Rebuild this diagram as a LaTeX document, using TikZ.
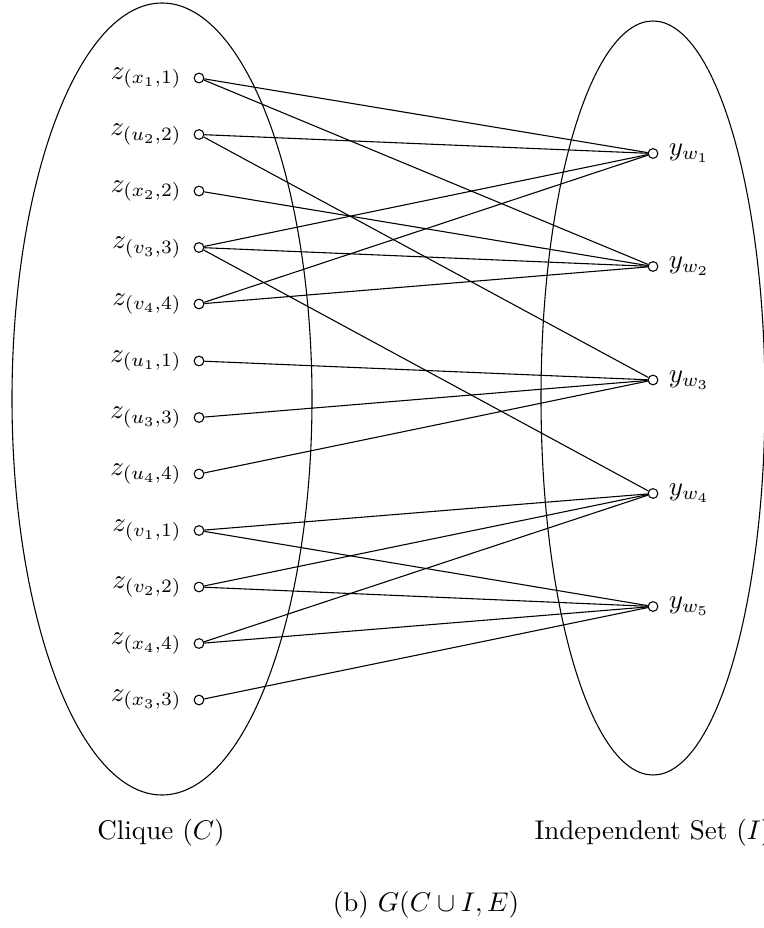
\documentclass[tikz,border=0pt]{standalone}
\usetikzlibrary{shapes.geometric}
\begin{document}
\begin{tikzpicture}[x=0.37pt,y=-0.37pt,
  vtx/.style={circle,draw,fill=white,inner sep=0pt,minimum size=3.6pt},
  lv/.style={vtx,label={[label distance=0.9pt]left:#1}},
  rv/.style={vtx,label={[label distance=0.3pt]right:#1}},
  edge/.style={line width=0.4pt},
  grp/.style={line width=0.4pt}]
\useasboundingbox (0,0) rectangle (763,928);
\draw[grp] (162,399) ellipse [x radius=150, y radius=396];
\draw[grp] (653,398) ellipse [x radius=112, y radius=377];
% left vertices
\node[lv={$z_{(x_1,1)}$}] (zx1) at (199,78) {};
\node[lv={$z_{(u_2,2)}$}] (zu2) at (199,134.5) {};
\node[lv={$z_{(x_2,2)}$}] (zx2) at (199,191) {};
\node[lv={$z_{(v_3,3)}$}] (zv3) at (199,247.5) {};
\node[lv={$z_{(v_4,4)}$}] (zv4) at (199,304) {};
\node[lv={$z_{(u_1,1)}$}] (zu1) at (199,361) {};
\node[lv={$z_{(u_3,3)}$}] (zu3) at (199,417.5) {};
\node[lv={$z_{(u_4,4)}$}] (zu4) at (199,474) {};
\node[lv={$z_{(v_1,1)}$}] (zv1) at (199,530.5) {};
\node[lv={$z_{(v_2,2)}$}] (zv2) at (199,587) {};
\node[lv={$z_{(x_4,4)}$}] (zx4) at (199,643.5) {};
\node[lv={$z_{(x_3,3)}$}] (zx3) at (199,700) {};
% right vertices
\node[rv={$y_{w_1}$}] (yw1) at (653,153.5) {};
\node[rv={$y_{w_2}$}] (yw2) at (653,266.5) {};
\node[rv={$y_{w_3}$}] (yw3) at (653,380) {};
\node[rv={$y_{w_4}$}] (yw4) at (653,493.5) {};
\node[rv={$y_{w_5}$}] (yw5) at (653,606.5) {};
% edges
\draw[edge] (zx1) -- (yw1);
\draw[edge] (zx1) -- (yw2);
\draw[edge] (zu2) -- (yw1);
\draw[edge] (zu2) -- (yw3);
\draw[edge] (zx2) -- (yw2);
\draw[edge] (zv3) -- (yw1);
\draw[edge] (zv3) -- (yw2);
\draw[edge] (zv3) -- (yw4);
\draw[edge] (zv4) -- (yw1);
\draw[edge] (zv4) -- (yw2);
\draw[edge] (zu1) -- (yw3);
\draw[edge] (zu3) -- (yw3);
\draw[edge] (zu4) -- (yw3);
\draw[edge] (zv1) -- (yw4);
\draw[edge] (zv1) -- (yw5);
\draw[edge] (zv2) -- (yw4);
\draw[edge] (zv2) -- (yw5);
\draw[edge] (zx4) -- (yw4);
\draw[edge] (zx4) -- (yw5);
\draw[edge] (zx3) -- (yw5);
% labels
\node (lc) at (161,833) {Clique ($C$)};
\node (li) at (653,833) {Independent Set ($I$)};
\node (cap) at (426,905) {(b) $G(C\cup I, E)$};
\end{tikzpicture}
\end{document}
